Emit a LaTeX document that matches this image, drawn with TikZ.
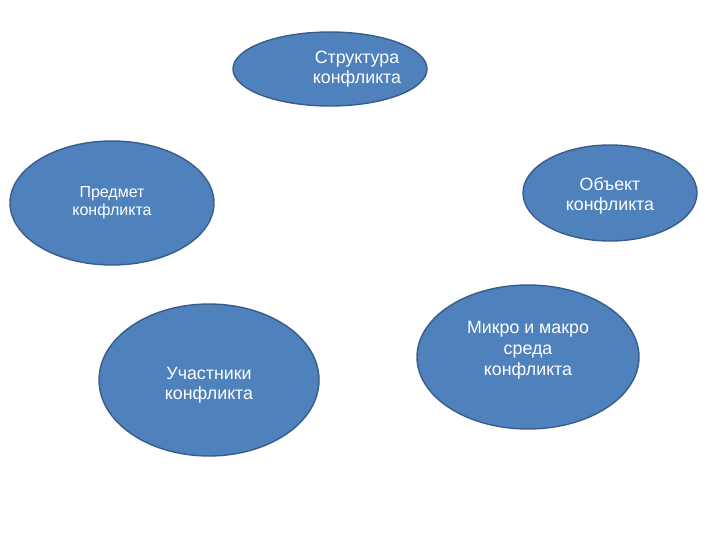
\documentclass[tikz,border=0pt]{standalone}
\usepackage{fontspec}
\setmainfont{Liberation Sans}
\usetikzlibrary{shapes.geometric}

\definecolor{ovalfill}{HTML}{4F81BD}
\definecolor{ovaledge}{HTML}{385D8A}

\tikzset{
  part/.style={ellipse, draw=ovaledge, fill=ovalfill, line width=1.4pt,
    inner sep=0pt, text=white, align=center,
    font=\fontsize{17.8}{20}\selectfont},
  parttext/.style={text=white, align=center, inner sep=0pt,
    font=\fontsize{17.8}{20}\selectfont},
}

\begin{document}
\begin{tikzpicture}[x=1pt,y=-1pt]
    \useasboundingbox (0,0) rectangle (720,540);
    % top oval, its text sits to the right
    \node[part, minimum width=194pt, minimum height=74pt] (struct) at (330,69) {};
    \node[parttext] (structtext) at ([xshift=27pt]struct.center) {Структура\\конфликта};
    \node[part, minimum width=204pt, minimum height=124pt,
      font=\fontsize{16}{18}\selectfont] (subject) at (112,203) {Предмет\\конфликта};
    \node[part, minimum width=174pt, minimum height=96pt] (object) at (610,193) {};
    \node[parttext] (objecttext) at ([yshift=-3pt]object.center) {Объект\\конфликта};
    \node[part, minimum width=220pt, minimum height=152pt] (actors) at (209,380) {};
    \node[parttext] (actorstext) at ([yshift=-5pt]actors.center) {Участники\\конфликта};
    \node[part, minimum width=222pt, minimum height=144pt] (milieu) at (528,357) {};
    \node[parttext, font=\fontsize{17.8}{21}\selectfont] (milieutext) at ([yshift=7pt]milieu.center) {Микро и макро\\среда\\конфликта};
\end{tikzpicture}
\end{document}
